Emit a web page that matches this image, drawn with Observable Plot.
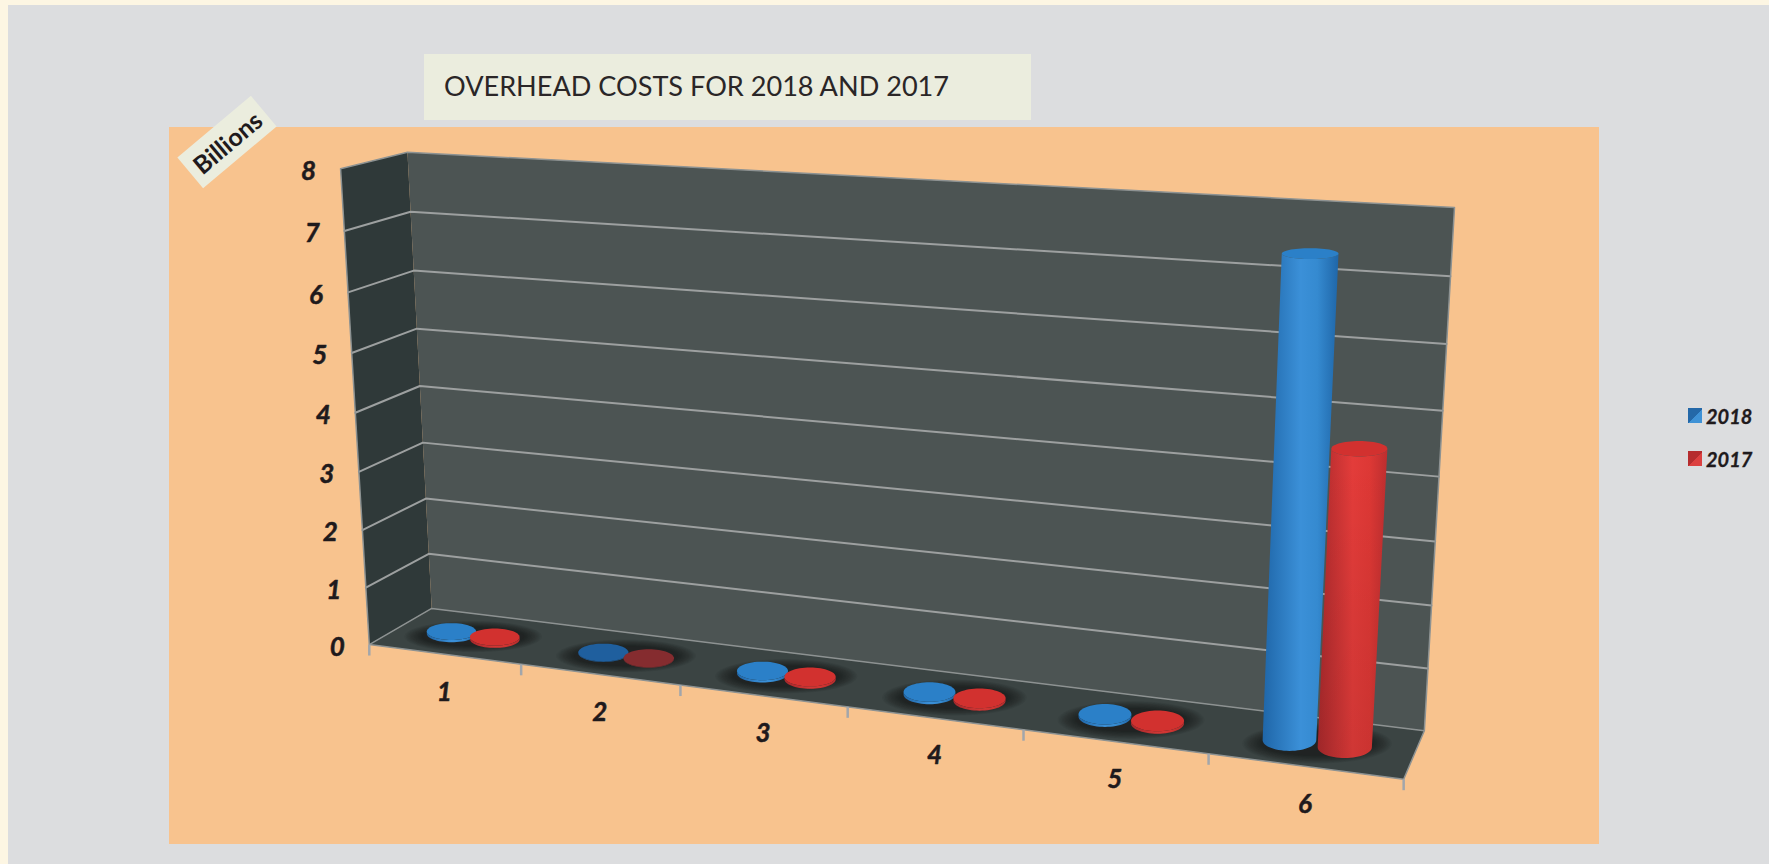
<!DOCTYPE html>
<html>
<head>
<meta charset="utf-8">
<script src="https://cdn.jsdelivr.net/npm/d3@7"></script>
<script src="https://cdn.jsdelivr.net/npm/@observablehq/plot@0.6"></script>
<style>
  html, body { margin: 0; padding: 0; background: #fdf6e3; width: 1769px; height: 864px; overflow: hidden; font-family: Lato, sans-serif; }
  #panel { position: absolute; left: 8px; top: 5px; width: 1761px; height: 859px; background: #dcdddf; }
  #chart { position: absolute; left: 169px; top: 127px; width: 1430px; height: 717px; }
  #chart svg { display: block; }
  #title { position: absolute; left: 424px; top: 54px; width: 607px; height: 66px; background: #ebedde; color: #2a2627;
           font-size: 27.1px; line-height: 63px; padding-left: 20px; box-sizing: border-box; white-space: nowrap; }
  #unit { position: absolute; left: 179px; top: 121.5px; width: 96px; height: 40px; background: #ebedde; color: #1f1a1c;
          transform: rotate(-40deg); font-weight: 700; font-size: 25px; line-height: 40px; text-align: center; z-index: 2; }
  .lg { position: absolute; left: 1688px; height: 24px; white-space: nowrap; font-weight: 700; font-style: italic; font-size: 20px; line-height: 24px; color: #1f1a1c; -webkit-text-stroke: 0.3px #1f1a1c; }
  .lg i { position: absolute; left: 0; top: 4px; width: 14px; height: 15px; }
  .lg span { position: absolute; left: 18px; top: 0; }
</style>
</head>
<body>
<div id="panel"></div>
<div id="title"></div>
<div id="unit"></div>
<div id="chart"></div>
<div id="legend"></div>
<script>
// ---- data ----
const categories = [1, 2, 3, 4, 5, 6];
const values2018 = [0.04, 0.01, 0.04, 0.04, 0.04, 7.4];
const values2017 = [0.04, 0.01, 0.04, 0.04, 0.04, 4.6];
const valueTicks = [0, 1, 2, 3, 4, 5, 6, 7, 8];
const seriesNames = ["2018", "2017"];
const titleText = "OVERHEAD COSTS FOR 2018 AND 2017";
const unitText = "Billions";

// ---- colours ----
const blueDark = "#1f66a8", blueLight = "#3b90d8", blueTop = "#2b80c8";
const redDark = "#ad2a2d", redLight = "#e43c3a", redTop = "#d2312f";
const blueDim = "#1f5f9e", redDim = "#852c2f";
const wallColor = "#4c5453", sideColor = "#2f3939", floorColor = "#3b4443";
const gridColor = "#9da0a0", edgeColor = "#8d9292", tickColor = "#a2a6ab", textColor = "#1f1a1c";

// ---- perspective camera: (category position, value, depth) -> page units ----
const catMax = categories.length, valMax = 8;
const calibration = [
  [0, valMax, 0, 407, 152], [catMax, valMax, 0, 1454, 207],
  [catMax, 0, 0, 1424, 730], [0, 0, 0, 431, 608],
  [0, valMax, 1, 340, 168], [0, 0, 1, 369, 644], [catMax, 0, 1, 1403, 779]
];
function solveCamera(pts) {
  const rows = [], rhs = [];
  for (const [c, v, d, x, y] of pts) {
    rows.push([c, v, d, 1, 0, 0, 0, 0, -x * c, -x * v, -x * d]); rhs.push(x);
    rows.push([0, 0, 0, 0, c, v, d, 1, -y * c, -y * v, -y * d]); rhs.push(y);
  }
  const n = 11;
  const A = d3.range(n).map(i => d3.range(n + 1).map(j =>
    j < n ? rows.reduce((s, r) => s + r[i] * r[j], 0)
          : rows.reduce((s, r, k) => s + r[i] * rhs[k], 0)));
  for (let i = 0; i < n; i++) {
    let p = i;
    for (let k = i + 1; k < n; k++) if (Math.abs(A[k][i]) > Math.abs(A[p][i])) p = k;
    [A[i], A[p]] = [A[p], A[i]];
    for (let k = 0; k < n; k++) if (k !== i) {
      const f = A[k][i] / A[i][i];
      for (let j = i; j <= n; j++) A[k][j] -= f * A[i][j];
    }
  }
  return A.map((r, i) => r[n] / r[i]);
}
const P = solveCamera(calibration);
function cam(c, v, d) {
  const w = P[8] * c + P[9] * v + P[10] * d + 1;
  return { x: (P[0] * c + P[1] * v + P[2] * d + P[3]) / w, y: (P[4] * c + P[5] * v + P[6] * d + P[7]) / w };
}

// ---- geometry built from the data through the camera ----
let pid = 0;
const wallPolys = [];
function wall(corners, fill) {
  const id = pid++;
  for (const [c, v, d] of corners) wallPolys.push({ ...cam(c, v, d), id, fill });
}
wall([[0, 0, 0], [0, valMax, 0], [0, valMax, 1], [0, 0, 1]], sideColor);
wall([[0, 0, 0], [catMax, 0, 0], [catMax, valMax, 0], [0, valMax, 0]], wallColor);
wall([[0, 0, 0], [catMax, 0, 0], [catMax, 0, 1], [0, 0, 1]], floorColor);

const depth = 0.53, offset = 0.145, rC = 0.141, rD = 0.23, N = 60;
const angles = d3.range(N + 1).map(i => i / N * 2 * Math.PI);

// upright ellipse around a floor or top position: radii taken from the camera,
// with the reference's weaker foreshortening of the cylinders' width
function ellipsePoint(center, value, rc, rd, t) {
  const o = cam(center, value, depth);
  const widen = 1 + 0.035 * Math.max(0, catMax - 0.5 - center);
  const rx = widen * (cam(center + rc, value, depth).x - cam(center - rc, value, depth).x) / 2;
  const ry = (cam(center, value, depth + rd).y - cam(center, value, depth - rd).y) / 2;
  return { x: o.x + rx * Math.cos(t), y: o.y + ry * Math.sin(t) };
}

// soft shadows under each pair of cylinders
const shadows = [];
const shadowSizes = d3.range(14).map(l => 1.75 - l * 0.055);
categories.forEach((cat, i) => {
  shadowSizes.forEach((m, l) => {
    const id = `${i}-${l}`;
    for (const t of angles) {
      shadows.push({ ...ellipsePoint(i + 0.5, 0, offset + rC * m, Math.min(rD * m * 1.05, 0.44), t), id });
    }
  });
});

// cylinders: body silhouette with a horizontal gradient, then the top disc
const barPolys = [];
const dimBelow = 0.02;
const arc = d3.range(0, N / 2 + 1).map(i => angles[i]);
function cylinder(center, value, bodyFill, topFill, shaded) {
  const body = [
    ...arc.map(t => ellipsePoint(center, 0, rC, rD, t)),
    ...arc.slice().reverse().map(t => ellipsePoint(center, value, rC, rD, t))
  ];
  let id = pid++;
  body.forEach(p => barPolys.push({ ...p, id, fill: bodyFill }));
  if (shaded) {
    id = pid++;
    body.forEach(p => barPolys.push({ ...p, id, fill: "url(#shadeDown)" }));
  }
  id = pid++;
  angles.forEach(t => barPolys.push({ ...ellipsePoint(center, value, rC, rD, t), id, fill: topFill }));
}
categories.forEach((cat, i) => {
  const dimA = values2018[i] < dimBelow, dimB = values2017[i] < dimBelow;
  cylinder(i + 0.5 - offset, values2018[i], dimA ? blueDim : "url(#blueBody)", dimA ? blueDim : blueTop, false);
  cylinder(i + 0.5 + offset, values2017[i], dimB ? redDim : "url(#redBody)", dimB ? redDim : redTop, !dimB);
});

// gridlines: along side wall then back wall
const gridRows = [];
valueTicks.filter(v => v > 0 && v < valMax).forEach(v => {
  [[0, v, 1], [0, v, 0], [catMax, v, 0]].forEach(([c, w, d]) => gridRows.push({ ...cam(c, w, d), v }));
});
const edgeRows = [];
[
  [[0, 0, 1], [0, valMax, 1], [0, valMax, 0], [catMax, valMax, 0], [catMax, 0, 0], [catMax, 0, 1], [0, 0, 1], [0, 0, 0], [catMax, 0, 0]]
].forEach((path, id) => path.forEach(([c, v, d]) => edgeRows.push({ ...cam(c, v, d), id })));

const tickRows = d3.range(0, catMax + 1).map(c => cam(c, 0, 1));
const catRows = categories.map((cat, i) => ({ ...cam(i + 0.5, 0, 1), label: String(cat) }));
const valRows = valueTicks.map(v => ({ ...cam(0, v, 1), label: String(v) }));

const textStyle = { fontFamily: "Lato", fontWeight: 700, fontStyle: "italic", fontSize: 26, fill: textColor, stroke: textColor, strokeWidth: 0.5, text: "label", x: "x", y: "y" };

function gradients() {
  const defs = d3.create("svg:defs");
  const grad = (id, stops, vertical) => {
    const g = defs.append("linearGradient").attr("id", id).attr("x1", 0).attr("y1", 0)
      .attr("x2", vertical ? 0 : 1).attr("y2", vertical ? 1 : 0);
    stops.forEach(([o, c, a]) => g.append("stop").attr("offset", o).attr("stop-color", c).attr("stop-opacity", a ?? 1));
  };
  grad("blueBody", [[0, blueDark], [0.5, blueLight], [0.72, "#358ad0"], [1, blueDark]]);
  grad("redBody", [[0, redDark], [0.5, redLight], [0.75, "#de3835"], [1, "#bd2e2f"]]);
  grad("shadeDown", [[0, "#000", 0], [0.5, "#000", 0.05], [1, "#000", 0.09]], true);
  return defs.node();
}

const chart = Plot.plot({
  width: 1430, height: 717,
  margin: 0,
  style: { background: "#f8c38e", overflow: "visible" },
  x: { domain: [169, 1599], range: [0, 1430], axis: null },
  y: { domain: [127, 844], range: [0, 717], axis: null },
  color: { type: "identity" },
  marks: [
    gradients,
    Plot.line(wallPolys, { x: "x", y: "y", z: "id", fill: "fill", stroke: "none" }),
    Plot.line(shadows, { x: "x", y: "y", z: "id", fill: "#0a1010", fillOpacity: 0.055, stroke: "none" }),
    Plot.line(gridRows, { x: "x", y: "y", z: "v", stroke: gridColor, strokeWidth: 2 }),
    Plot.line(edgeRows, { x: "x", y: "y", z: "id", stroke: edgeColor, strokeWidth: 1.5 }),
    Plot.link(tickRows, { x1: "x", x2: "x", y1: "y", y2: d => d.y + 11, stroke: tickColor, strokeWidth: 2.5 }),
    Plot.line(barPolys, { x: "x", y: "y", z: "id", fill: "fill", stroke: "none" }),
    Plot.text(catRows, { ...textStyle, dy: 38 }),
    Plot.text(valRows, { ...textStyle, dx: -32, dy: 3 })
  ]
});
document.getElementById("chart").append(chart);
document.getElementById("title").textContent = titleText;
document.getElementById("unit").textContent = unitText;

const swatches = [
  `conic-gradient(from -45deg at 50% 55%, #2468a8 0 90deg, #3f92d6 90deg 270deg, #2468a8 270deg)`,
  `conic-gradient(from -45deg at 50% 55%, #b52c2e 0 90deg, #dc4040 90deg 270deg, #b52c2e 270deg)`
];
const legendTops = [404, 447];
seriesNames.forEach((name, i) => {
  const row = document.createElement("div");
  row.className = "lg";
  row.style.top = legendTops[i] + "px";
  row.innerHTML = `<i style="background:${swatches[i]}"></i><span>${name}</span>`;
  document.getElementById("legend").append(row);
});
</script>
</body>
</html>
